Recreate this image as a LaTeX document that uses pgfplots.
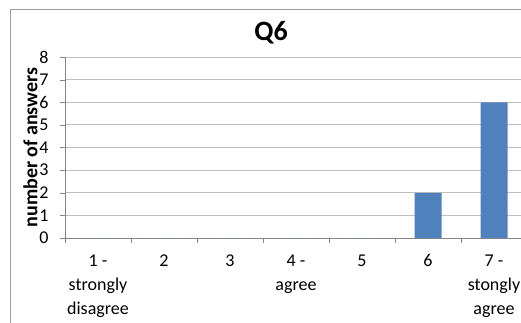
\documentclass[border=0pt]{standalone}
\usepackage{pgfplots}
\pgfplotsset{compat=1.18}
\usepackage{fontspec}
\setmainfont{Carlito}
\definecolor{barblue}{HTML}{4F81BD}
\definecolor{gridgray}{HTML}{BFBFBF}
\definecolor{axisgray}{HTML}{868686}
\begin{document}
\begin{tikzpicture}
\draw[color=axisgray!80, line width=1.2pt] (10.5pt,-20pt) -- (10.5pt,312.5pt) -- (560pt,312.5pt);
\node[font=\fontsize{28}{32}\selectfont\bfseries] at (271pt,289pt) {Q6};
\begin{axis}[
  at={(65pt,84pt)}, anchor=south west,
  scale only axis, width=462pt, height=181pt,
  xmin=-0.5, xmax=6.5, ymin=0, ymax=8,
  axis x line*=bottom, axis y line*=left,
  axis line style={draw=axisgray, -},
  ybar, bar width=27pt,
  xtick={0,...,6},
  xticklabels={{1 -\\strongly\\disagree},2,3,{4 -\\agree},5,6,{7 -\\stongly\\agree}},
  xticklabel style={align=center, font=\fontsize{18}{24}\selectfont, yshift=-8pt},
  major x tick style={draw=none},
  minor xtick={-0.5,0.5,...,6.5},
  minor x tick style={draw=axisgray},
  ytick={0,...,8},
  y tick style={draw=axisgray},
  yticklabel style={font=\fontsize{18}{20}\selectfont, xshift=-8pt},
  tick align=outside, major tick length=5pt, minor tick length=5pt,
  ymajorgrids, grid style={draw=gridgray, line width=0.8pt},
  /pgf/number format/assume math mode=true,
  ylabel={\bfseries number of answers},
  ylabel style={font=\fontsize{20}{22}\selectfont, at={(axis description cs:0,0.5)}, anchor=south, yshift=24pt},
  clip=false,
]
\addplot[fill=barblue, draw=none] coordinates {(0,0) (1,0) (2,0) (3,0) (4,0) (5,2) (6,6)};
\end{axis}
\pgfresetboundingbox
\useasboundingbox (0pt,0pt) rectangle (521pt,322pt);
\end{tikzpicture}
\end{document}
